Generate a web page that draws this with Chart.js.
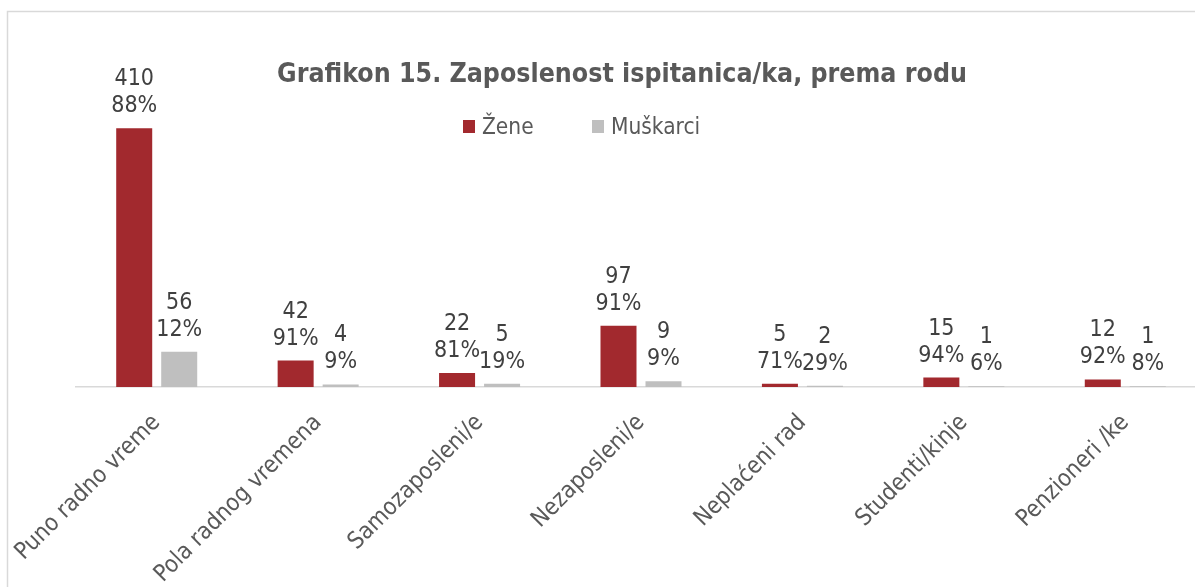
<!DOCTYPE html>
<html>
<head>
<meta charset="utf-8">
<script src="https://cdn.jsdelivr.net/npm/chart.js@4.4.1/dist/chart.umd.min.js"></script>
<style>
  html, body { margin: 0; padding: 0; background: #ffffff; overflow: hidden; }
  #wrap { width: 1215px; height: 587px; }
</style>
</head>
<body>
<div id="wrap"><canvas id="c" width="1215" height="587"></canvas></div>
<script>
const categories = ["Puno radno vreme", "Pola radnog vremena", "Samozaposleni/e", "Nezaposleni/e", "Neplaćeni rad", "Studenti/kinje", "Penzioneri /ke"];
const zeneValues = [410, 42, 22, 97, 5, 15, 12];
const muskarciValues = [56, 4, 5, 9, 2, 1, 1];
const zenePct = [88, 91, 81, 91, 71, 94, 92];
const muskarciPct = [12, 9, 19, 9, 29, 6, 8];
const seriesNames = ["Žene", "Muškarci"];
const titleText = "Grafikon 15. Zaposlenost ispitanica/ka, prema rodu";

const FONT = "'DejaVu Sans Condensed', 'DejaVu Sans', sans-serif";
const RED = "#A2292E";
const GRAY = "#BFBFBF";

const decorPlugin = {
  id: 'decor',
  beforeDraw(chart) {
    const ctx = chart.ctx;
    ctx.save();
    ctx.strokeStyle = '#D9D9D9';
    ctx.lineWidth = 1.5;
    ctx.strokeRect(7.5, 11.5, 2000, 2000);
    ctx.restore();
  },
  afterDraw(chart) {
    const ctx = chart.ctx;
    ctx.save();
    // title
    ctx.fillStyle = '#595959';
    ctx.font = "bold 26.5px " + FONT;
    ctx.textAlign = 'center';
    ctx.textBaseline = 'alphabetic';
    ctx.fillText(titleText, 622, 82);
    // legend
    ctx.font = "22.5px " + FONT;
    ctx.textAlign = 'left';
    ctx.textBaseline = 'middle';
    const items = [
      {x: 463, color: RED, text: seriesNames[0]},
      {x: 592, color: GRAY, text: seriesNames[1]}
    ];
    items.forEach(it => {
      ctx.fillStyle = it.color;
      ctx.fillRect(it.x, 120, 12, 13);
      ctx.fillStyle = '#595959';
      ctx.fillText(it.text, it.x + 19, 128);
    });
    // data labels
    ctx.fillStyle = '#404040';
    ctx.font = "23px " + FONT;
    ctx.textAlign = 'center';
    ctx.textBaseline = 'alphabetic';
    const pcts = [zenePct, muskarciPct];
    chart.data.datasets.forEach((ds, di) => {
      const meta = chart.getDatasetMeta(di);
      meta.data.forEach((bar, i) => {
        const y2 = bar.y - 16;
        ctx.fillText(String(ds.data[i]), bar.x, y2 - 27);
        ctx.fillText(pcts[di][i] + '%', bar.x, y2);
      });
    });
    ctx.restore();
  }
};

new Chart(document.getElementById('c'), {
  type: 'bar',
  data: {
    labels: categories,
    datasets: [
      { label: seriesNames[0], data: zeneValues, backgroundColor: RED, borderWidth: 0 },
      { label: seriesNames[1], data: muskarciValues, backgroundColor: GRAY, borderWidth: 0 }
    ]
  },
  options: {
    responsive: false,
    animation: false,
    layout: { padding: { left: 76, right: 9, top: 40, bottom: 0 } },
    datasets: { bar: { categoryPercentage: 0.5576, barPercentage: 0.8 } },
    plugins: {
      legend: { display: false },
      title: { display: false },
      tooltip: { enabled: false }
    },
    scales: {
      x: {
        grid: { display: false, drawTicks: false },
        border: { display: true, color: '#D9D9D9', width: 1.5 },
        ticks: {
          color: '#595959',
          font: { family: FONT, size: 23.5 },
          minRotation: 45,
          maxRotation: 45,
          autoSkip: false,
          padding: 22
        },
        afterFit(scale) {
          scale.height = 200;
          scale.paddingLeft = 0;
          scale.paddingRight = 0;
        }
      },
      y: {
        display: false,
        min: 0,
        max: 550
      }
    }
  },
  plugins: [decorPlugin]
});
</script>
</body>
</html>
